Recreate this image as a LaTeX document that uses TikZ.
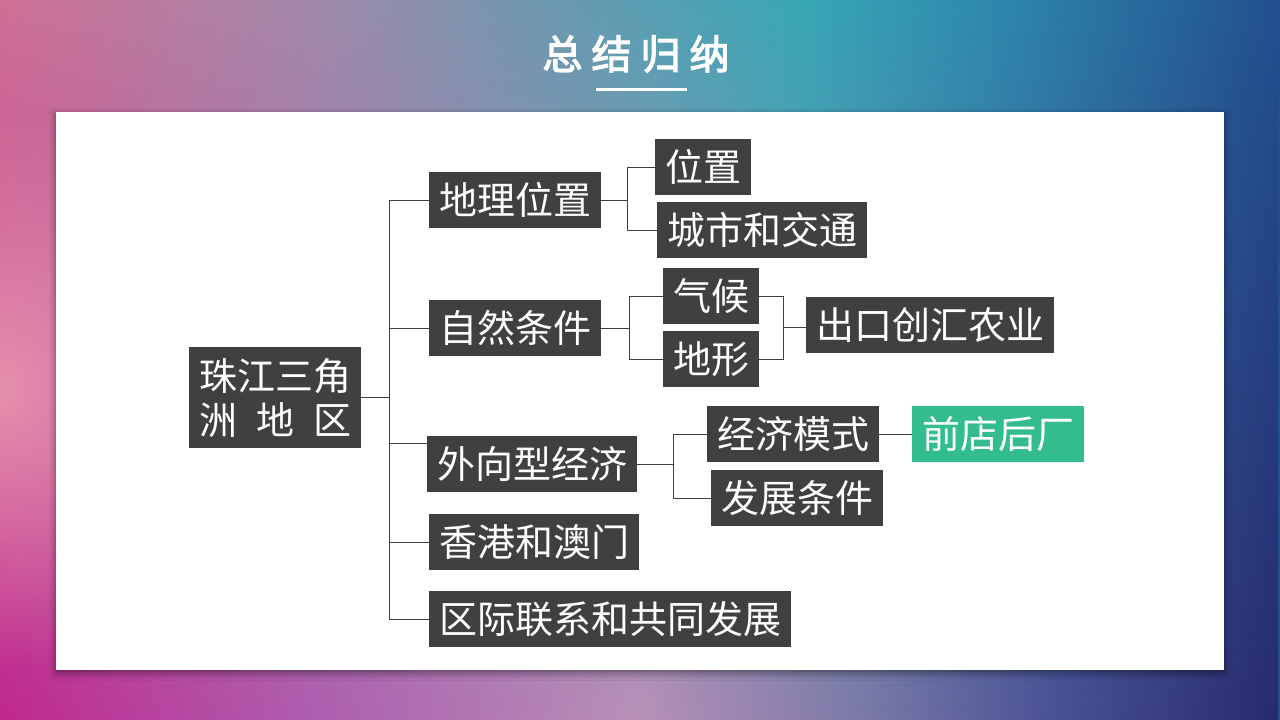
\documentclass[tikz,border=0pt]{standalone}
\usepackage{fontspec}
\newfontfamily\cjk{Noto Sans CJK SC}
\newfontfamily\cjkbold[FakeBold=3]{Noto Sans CJK SC}
\usetikzlibrary{fadings}
\usetikzlibrary{shadows.blur}
\usetikzlibrary{calc}
\definecolor{boxgray}{RGB}{64, 64, 64}
\definecolor{mgreen}{RGB}{51, 188, 140}
\definecolor{pinkhi}{RGB}{238, 162, 180}
\definecolor{topA}{RGB}{208, 112, 150}
\definecolor{topB}{RGB}{160, 138, 170}
\definecolor{topC}{RGB}{106, 154, 176}
\definecolor{topD}{RGB}{56, 168, 182}
\definecolor{topE}{RGB}{45, 136, 173}
\definecolor{topF}{RGB}{34, 80, 143}
\definecolor{botA}{RGB}{192, 40, 143}
\definecolor{botB}{RGB}{174, 95, 176}
\definecolor{botC}{RGB}{184, 144, 184}
\definecolor{botD}{RGB}{124, 122, 168}
\definecolor{botE}{RGB}{74, 80, 149}
\definecolor{botF}{RGB}{40, 42, 110}
\pgfdeclarehorizontalshading{skytop}{100bp}{color(0bp)=(topA); color(25bp)=(topA);
  color(37.5bp)=(topB); color(46.9bp)=(topC); color(56.25bp)=(topD);
  color(64bp)=(topE); color(75bp)=(topF); color(100bp)=(topF)}
\pgfdeclarehorizontalshading{skybottom}{100bp}{color(0bp)=(botA); color(25bp)=(botA);
  color(37.5bp)=(botB); color(50bp)=(botC); color(58.6bp)=(botD);
  color(66.4bp)=(botE); color(75bp)=(botF); color(100bp)=(botF)}
\tikzfading[name=fadeup, top color=transparent!100, bottom color=transparent!0]
\tikzfading[name=blob, inner color=transparent!0, outer color=transparent!100]
\tikzset{box/.style = {fill=boxgray, text=white, inner xsep=10pt, inner ysep=0pt,
                       minimum height=56pt, anchor=west,
                       font=\cjk\fontsize{38}{44}\selectfont}}
\tikzset{hot/.style = {box, fill=mgreen}}
\tikzset{link/.style = {draw=boxgray, line width=1pt}}

\begin{document}
\begin{tikzpicture}[x=1pt, y=-1pt]
    \useasboundingbox (0, 0) rectangle (1280, 720);

    \begin{scope}
      \clip (0, 0) rectangle (1280, 720);
      \shade [shading=skytop] (0, 0) rectangle (1280, 720);
      \shade [shading=skybottom, path fading=fadeup] (0, 0) rectangle (1280, 720);
      \fill [pinkhi, path fading=blob, opacity=0.8] (0, 390) ellipse [x radius=240, y radius=280];
    \end{scope}

    \node [font=\cjkbold\fontsize{40}{48}\selectfont, text=white] (title) at (636, 54)
          {总\hspace{9pt}结\hspace{9pt}归\hspace{9pt}纳};
    \draw [white, line width=3pt] (596, 89) -- (687, 89);

    \fill [white, blur shadow={shadow xshift=0pt, shadow yshift=-3pt,
           shadow blur radius=7pt, shadow opacity=45}] (56, 112) rectangle (1224, 670);

    \node [box, minimum height=101pt, align=center] (root) at (189, 397.5)
          {珠江三角\\\makebox[152pt]{洲\hfill 地\hfill 区}};

    \node [box] (dili) at (429, 200) {地理位置};
    \node [box] (ziran) at (429, 328) {自然条件};
    \node [box] (waixiang) at (427, 464) {外向型经济};
    \node [box] (xianggang) at (429, 542) {香港和澳门};
    \node [box] (quji) at (429, 619) {区际联系和共同发展};

    \node [box] (weizhi) at (655, 167) {位置};
    \node [box] (chengshi) at (657, 230) {城市和交通};
    \node [box] (qihou) at (663, 296) {气候};
    \node [box] (dixing) at (663, 359) {地形};
    \node [box] (chukou) at (806, 325) {出口创汇农业};
    \node [box] (moshi) at (707, 434) {经济模式};
    \node [box] (fazhan) at (711, 498) {发展条件};
    \node [hot] (qiandian) at (912, 434) {前店后厂};

    \coordinate (j0) at (389, 397.5);
    \coordinate (wx) at ([yshift=-8pt]waixiang.north west);
    \draw [link] (root.east) -- (j0);
    \draw [link] (dili.west) -| (j0);
    \draw [link] (quji.west) -| (j0);
    \draw [link] (ziran.west) -- (ziran.west -| j0);
    \draw [link] (wx) -- (wx -| j0);
    \draw [link] (xianggang.west) -- (xianggang.west -| j0);

    \coordinate (j1) at (627, 200);
    \draw [link] (dili.east) -- (j1);
    \draw [link] (weizhi.west) -| (j1);
    \draw [link] (chengshi.west) -| (j1);

    \coordinate (j2) at (629, 328);
    \draw [link] (ziran.east) -- (j2);
    \draw [link] (qihou.west) -| (j2);
    \draw [link] (dixing.west) -| (j2);

    \coordinate (j3) at (783, 327);
    \draw [link] (qihou.east) -| (j3);
    \draw [link] (dixing.east) -| (j3);
    \draw [link] (j3) -- (j3 -| chukou.west);

    \coordinate (j4) at (673, 464);
    \draw [link] (waixiang.east) -- (j4);
    \draw [link] (moshi.west) -| (j4);
    \draw [link] (fazhan.west) -| (j4);
    \draw [link] (moshi.east) -- (qiandian.west);
  \end{tikzpicture}
\end{document}
